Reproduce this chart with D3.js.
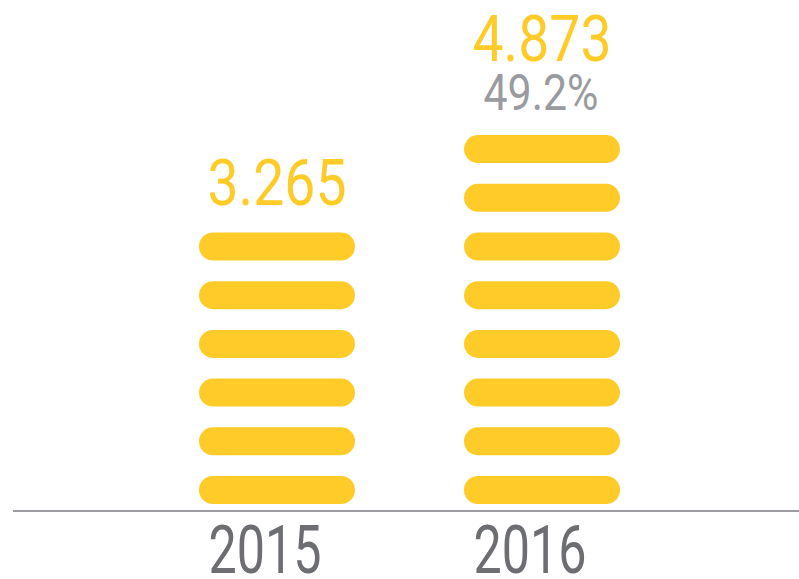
<!DOCTYPE html>
<html>
<head>
<meta charset="utf-8">
<script src="https://cdn.jsdelivr.net/npm/d3@7"></script>
<style>
html,body{margin:0;padding:0;background:#fff;}
svg{display:block;}
</style>
</head>
<body>
<svg id="chart" width="799" height="579"></svg>
<script>
const years = ["2015", "2016"];
const values = ["3.265", "4.873"];
const coins = [6, 8];
const growth = ["", "49.2%"];

const svg = d3.select("#chart");
const font = "Roboto, 'Liberation Sans', sans-serif";
const yellow = "#FFCB29";

const x = d3.scalePoint().domain(years).range([277, 542]);
const y = d3.scaleLinear().domain([0, 1]).range([490, 441.3]);
const pillW = 156, pillH = 28;

// baseline
svg.append("line")
  .attr("x1", 13).attr("x2", 799)
  .attr("y1", 511).attr("y2", 511)
  .attr("stroke", "#9d9ea1").attr("stroke-width", 2);

const data = years.map((yr, i) => ({year: yr, value: values[i], n: coins[i], growth: growth[i]}));

const g = svg.selectAll("g.col").data(data).enter().append("g").attr("class", "col");

g.selectAll("rect").data(d => d3.range(d.n).map(k => ({year: d.year, k})))
  .enter().append("rect")
  .attr("x", d => x(d.year) - pillW / 2)
  .attr("y", d => y(d.k) - pillH / 2)
  .attr("width", pillW).attr("height", pillH)
  .attr("rx", pillH / 2).attr("ry", pillH / 2)
  .attr("fill", yellow);

// value labels
g.append("text")
  .attr("x", d => x(d.year))
  .attr("y", d => d.growth ? y(d.n - 1) - 88 : y(d.n - 1) - 42)
  .attr("text-anchor", "middle")
  .attr("font-family", font)
  .attr("font-size", 64)
  .attr("textLength", 139)
  .attr("lengthAdjust", "spacingAndGlyphs")
  .attr("fill", yellow)
  .text(d => d.value);

// growth labels
g.filter(d => d.growth).append("text")
  .attr("x", d => x(d.year) - 1)
  .attr("y", d => y(d.n - 1) - 39.5)
  .attr("text-anchor", "middle")
  .attr("font-family", font)
  .attr("font-size", 50)
  .attr("textLength", 115)
  .attr("lengthAdjust", "spacingAndGlyphs")
  .attr("fill", "#9a9b9f")
  .text(d => d.growth);

// year labels
g.append("text")
  .attr("x", d => x(d.year) - 12)
  .attr("y", 573)
  .attr("text-anchor", "middle")
  .attr("font-family", font)
  .attr("font-size", 66)
  .attr("textLength", 113)
  .attr("lengthAdjust", "spacingAndGlyphs")
  .attr("fill", "#6d6e71")
  .text(d => d.year);
</script>
</body>
</html>
